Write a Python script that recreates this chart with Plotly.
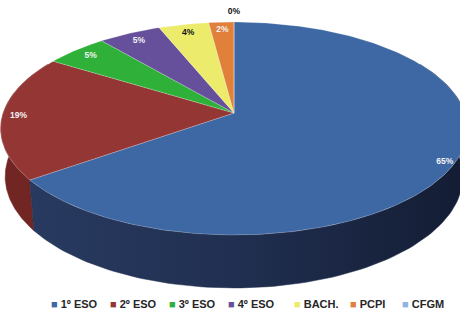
import numpy as np
import plotly.graph_objects as go

# ---------------- data ----------------
categories = ["1º ESO", "2º ESO", "3º ESO", "4º ESO", "BACH.", "PCPI", "CFGM"]
percent = [65, 19, 5, 5, 4, 2, 0]
labels = [f"{p}%" for p in percent]

# ---------------- styles ----------------
top_colors = ["#3E68A4", "#943634", "#2FB139", "#66509C", "#ECEB6C", "#E0803B", "#8DB4E2"]
side_colors = ["#1F2C4C", "#722624", "#1F7A27", "#46376C", "#A5A44A", "#9C5829", "#627E9E"]
label_colors = ["#F2F2F2", "#F2F2F2", "#F2F2F2", "#F2F2F2", "#111111", "#F2F2F2", "#111111"]
label_radius = [0.96, 0.93, 0.9, 0.9, 0.9, 0.9, 1.13]
legend_x = [49, 108, 167, 226, 292, 348, 400]

W, HGT = 460, 316
CX, CY = 234, 113          # projected centre of the top face
K, DIST, PHI, DEPTH = 1346.6, 6.066, np.radians(28), 0.248
KX = K * 1.04


def proj(u, v, w=0.0):
    s, c = np.sin(PHI), np.cos(PHI)
    yc = v * s + w * c
    zc = DIST + v * c - w * s
    return CX + KX * u / zc, CY - K * yc / zc


frac = np.array(percent, dtype=float) / sum(percent)
ends = np.cumsum(frac) * 2 * np.pi
starts = ends - frac * 2 * np.pi

fig = go.Figure()

# ---------- outer walls (only the part that can face the viewer) ----------
wall_lo, wall_hi = np.radians(60), np.radians(300)
walls = []
for i in range(len(categories)):
    a0, a1 = max(starts[i], wall_lo), min(ends[i], wall_hi)
    if a1 <= a0:
        continue
    t = np.linspace(a0, a1, 120)
    xt, yt = proj(np.sin(t), np.cos(t), 0.0)
    xb, yb = proj(np.sin(t[::-1]), np.cos(t[::-1]), -DEPTH)
    xs = np.concatenate([xt, xb, xt[:1]])
    ys = np.concatenate([yt, yb, yt[:1]])
    walls.append((np.mean(np.cos(t)), i, xs, ys))
walls.sort(key=lambda r: -r[0])  # far ones first
for _, i, xs, ys in walls:
    kw = dict(fillcolor=side_colors[i])
    if i == 0:
        kw = dict(fillgradient=dict(type="horizontal",
                                    colorscale=[[0, "#283A60"], [0.45, "#213052"], [1, "#131C33"]]))
    fig.add_trace(go.Scatter(x=xs, y=ys, mode="lines", fill="toself",
                             line=dict(color=side_colors[i], width=0.5),
                             hoverinfo="skip", showlegend=False, **kw))

# ---------- top faces ----------
for i in range(len(categories)):
    t = np.linspace(starts[i], ends[i], max(3, int(400 * frac[i]) + 3))
    xa, ya = proj(np.sin(t), np.cos(t), 0.0)
    x0, y0 = proj(0.0, 0.0, 0.0)
    xs = np.concatenate([[x0], xa, [x0]])
    ys = np.concatenate([[y0], ya, [y0]])
    fig.add_trace(go.Scatter(x=xs, y=ys, mode="lines", fill="toself",
                             fillcolor=top_colors[i],
                             line=dict(color="rgba(255,255,255,0.35)", width=0.6),
                             name=categories[i], hoverinfo="name", showlegend=False))

# ---------- data labels ----------
mid = (starts + ends) / 2
lx, ly = proj(np.sin(mid) * np.array(label_radius), np.cos(mid) * np.array(label_radius), 0.0)
fig.add_trace(go.Scatter(x=lx, y=ly, mode="text", text=labels,
                         textfont=dict(family="Liberation Sans", size=8.5, color=label_colors, weight="bold"),
                         hoverinfo="skip", showlegend=False))

# ---------- legend (drawn as text) ----------
annotations = []
for i, cat in enumerate(categories):
    annotations.append(dict(
        x=legend_x[i], y=304, xref="x", yref="y", xanchor="left", yanchor="middle",
        showarrow=False,
        text=f"<span style='color:{top_colors[i]}'>■</span> <b>{cat}</b>",
        font=dict(family="Liberation Sans", size=11, color="#262626")))

fig.update_layout(
    width=W, height=HGT,
    margin=dict(l=0, r=0, t=0, b=0),
    paper_bgcolor="white", plot_bgcolor="white",
    xaxis=dict(range=[0, W], visible=False, fixedrange=True),
    yaxis=dict(range=[HGT, 0], visible=False, fixedrange=True),
    annotations=annotations,
    showlegend=False,
)

fig.write_html("out.html", config={"displayModeBar": False},
               post_script="document.body.style.margin='0';document.body.style.overflow='hidden';")
